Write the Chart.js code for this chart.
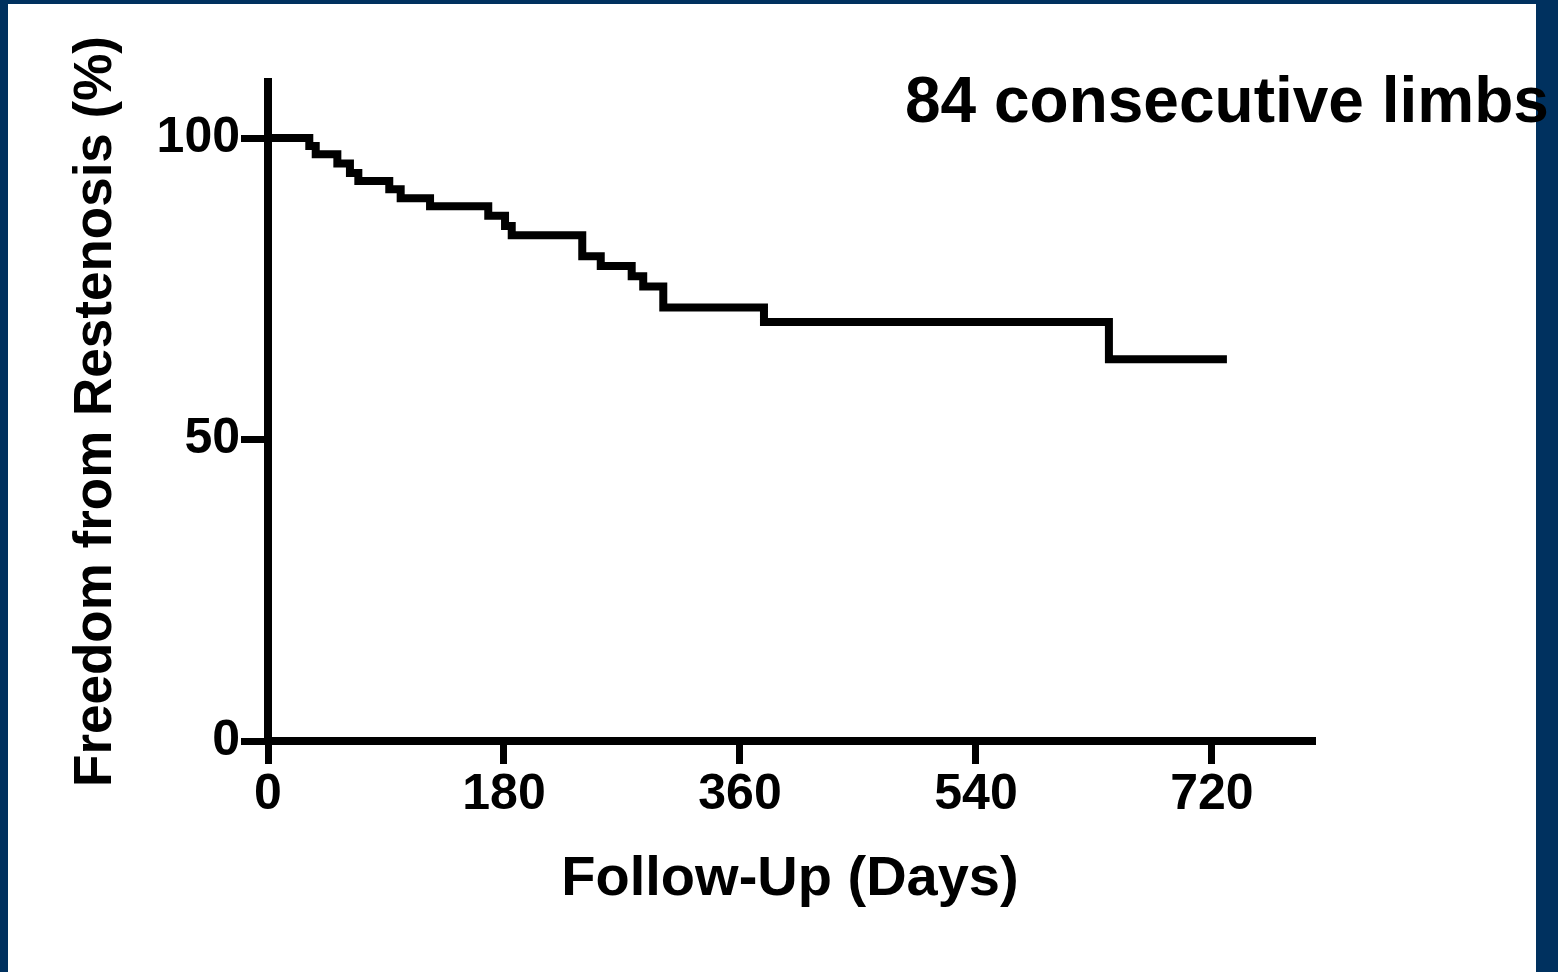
<!DOCTYPE html>
<html>
<head>
<meta charset="utf-8">
<script src="https://cdn.jsdelivr.net/npm/chart.js@4.4.1/dist/chart.umd.min.js"></script>
<style>
html,body{margin:0;padding:0;background:#00315f;overflow:hidden}
canvas{display:block}
</style>
</head>
<body>
<canvas id="c" width="1558" height="972"></canvas>
<script>
// Kaplan-Meier step data
const days    = [0, 31.5, 36.4, 52.9, 62.5, 68.9, 92.5, 101.2, 123.6, 168.0, 180.8, 185.9, 239.7, 253.8, 277.4, 286.2, 301.5, 378.3, 641.4, 731.4];
const freedom = [100, 98.7, 97.3, 95.8, 94.2, 92.9, 91.5, 90.0, 88.7, 87.1, 85.4, 83.9, 80.4, 78.8, 77.1, 75.4, 71.9, 69.5, 63.3, 63.3];
const xTicks = [0, 180, 360, 540, 720];
const yTicks = [0, 50, 100];
const xTitle = 'Follow-Up (Days)';
const yTitle = 'Freedom from Restenosis (%)';
const annotation = '84 consecutive limbs';

const FONT = '"Liberation Sans", Arial, Helvetica, sans-serif';
const BLUE = '#00315f';

const points = days.map((d, i) => ({x: d, y: freedom[i]}));

const framePlugin = {
  id: 'frame',
  beforeDraw(chart) {
    const ctx = chart.ctx;
    ctx.save();
    ctx.fillStyle = BLUE;
    ctx.fillRect(0, 0, chart.width, chart.height);
    ctx.fillStyle = '#ffffff';
    ctx.fillRect(8, 4, 1528, chart.height - 4);
    ctx.restore();
  },
  afterDraw(chart) {
    const ctx = chart.ctx;
    ctx.save();
    ctx.fillStyle = '#000';
    ctx.font = 'bold 64px ' + FONT;
    ctx.textAlign = 'left';
    ctx.textBaseline = 'alphabetic';
    ctx.fillText(annotation, 905, 122);
    ctx.restore();
  }
};

Chart.defaults.color = '#000';

new Chart(document.getElementById('c'), {
  type: 'line',
  data: {
    datasets: [{
      data: points,
      borderColor: '#000',
      borderWidth: 8,
      stepped: 'before',
      pointRadius: 0,
      fill: false,
      tension: 0,
      borderJoinStyle: 'miter',
      borderCapStyle: 'butt'
    }]
  },
  options: {
    responsive: false,
    animation: false,
    events: [],
    layout: {padding: {left: 0, top: 82, right: 246, bottom: 0}},
    plugins: {legend: {display: false}, tooltip: {enabled: false}, title: {display: false}},
    scales: {
      x: {
        type: 'linear',
        min: 0,
        max: 796.3,
        afterBuildTicks: s => { s.ticks = xTicks.map(v => ({value: v})); },
        afterFit: s => { s.height = 231; },
        border: {display: true, color: '#000', width: 8},
        grid: {drawOnChartArea: false, drawTicks: true, tickLength: 23, tickWidth: 7, tickColor: '#000', color: '#000', lineWidth: 7},
        ticks: {
          color: '#000',
          padding: 1,
          maxRotation: 0,
          autoSkip: false,
          font: {family: FONT, size: 50, weight: 'bold'},
          callback: v => String(v)
        },
        title: {
          display: true,
          text: xTitle,
          color: '#000',
          font: {family: FONT, size: 56, weight: 'bold'},
          padding: {top: 0, bottom: 59}
        }
      },
      y: {
        type: 'linear',
        min: 0,
        max: 109.3,
        afterBuildTicks: s => { s.ticks = yTicks.map(v => ({value: v})); },
        afterFit: s => { s.width = 268; },
        border: {display: true, color: '#000', width: 8},
        grid: {drawOnChartArea: false, drawTicks: true, tickLength: 27, tickWidth: 7, tickColor: '#000', color: '#000', lineWidth: 7},
        ticks: {
          color: '#000',
          padding: 1,
          autoSkip: false,
          font: {family: FONT, size: 50, weight: 'bold'},
          callback: v => String(v)
        },
        title: {
          display: true,
          text: yTitle,
          color: '#000',
          font: {family: FONT, size: 53, weight: 'bold'},
          padding: {top: 65, bottom: 0}
        }
      }
    }
  },
  plugins: [framePlugin]
});
</script>
</body>
</html>
